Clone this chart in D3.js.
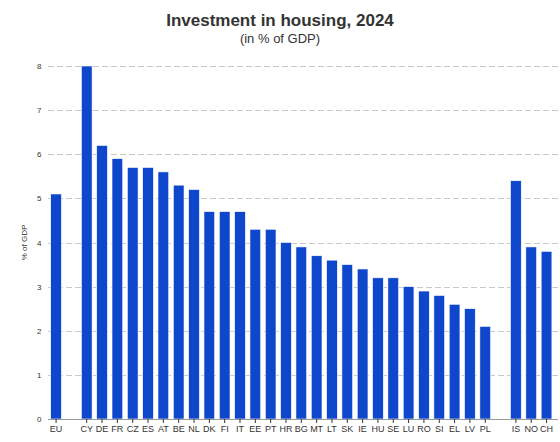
<!DOCTYPE html>
<html><head><meta charset="utf-8">
<script src="https://cdn.jsdelivr.net/npm/d3@7"></script>
<style>body{margin:0;background:#fff;} svg{display:block;font-family:"Liberation Sans",Arial,sans-serif;}</style>
</head><body>
<svg id="c" width="560" height="442"></svg>
<script>
const categories = ["EU","","CY","DE","FR","CZ","ES","AT","BE","NL","DK","FI","IT","EE","PT","HR","BG","MT","LT","SK","IE","HU","SE","LU","RO","SI","EL","LV","PL"," ","IS","NO","CH"];
const values = [5.1,null,8.0,6.2,5.9,5.7,5.7,5.6,5.3,5.2,4.7,4.7,4.7,4.3,4.3,4.0,3.9,3.7,3.6,3.5,3.4,3.2,3.2,3.0,2.9,2.8,2.6,2.5,2.1,null,5.4,3.9,3.8];
const yTicks = [0,1,2,3,4,5,6,7,8];
const title = "Investment in housing, 2024";
const subtitle = "(in % of GDP)";
const yLabel = "% of GDP";

const svg = d3.select("#c");
const m = {l:48.4, r:5.8, t:66, b:23};
const W = 560, H = 442;
const x = d3.scaleBand().domain(categories).range([m.l, W-m.r]).paddingInner(0.3).paddingOuter(0.15);
const y = d3.scaleLinear().domain([0,8]).range([H-m.b, m.t]);

svg.append("text").attr("x",280).attr("y",26).attr("text-anchor","middle")
  .attr("font-size",17).attr("font-weight","bold").attr("fill","#333").text(title);
svg.append("text").attr("x",280).attr("y",43).attr("text-anchor","middle")
  .attr("font-size",13).attr("fill","#333").text(subtitle);

// grid
svg.append("g").selectAll("line").data(yTicks.filter(d=>d>0)).join("line")
  .attr("x1",48).attr("x2",558).attr("y1",d=>Math.round(y(d))+0.5).attr("y2",d=>Math.round(y(d))+0.5)
  .attr("stroke","#c8c8c8").attr("stroke-dasharray","6,3");

// y axis
const ya = svg.append("g").attr("transform",`translate(${m.l},0)`)
  .call(d3.axisLeft(y).tickValues(yTicks).tickSize(0).tickPadding(7).tickFormat(d3.format("d")));
ya.select(".domain").remove();
ya.selectAll("text").attr("font-size",8).attr("fill","#333").attr("font-family","Liberation Sans, Arial, sans-serif");

svg.append("text").attr("transform",`translate(27,${(m.t+H-m.b)/2}) rotate(-90)`)
  .attr("text-anchor","middle").attr("font-size",8).attr("fill","#333").text(yLabel);

// bars
svg.append("g").selectAll("rect").data(categories.map((c,i)=>({c,v:values[i]})).filter(d=>d.v!=null)).join("rect")
  .attr("x",d=>x(d.c)).attr("width",x.bandwidth())
  .attr("y",d=>y(d.v)).attr("height",d=>y(0)-y(d.v))
  .attr("fill","#0e47cb").attr("stroke","#ffffff").attr("stroke-width",0.6);

// x axis
const xa = svg.append("g").attr("transform",`translate(0,${y(0)})`)
  .call(d3.axisBottom(x).tickSize(4).tickPadding(3).tickFormat(d=>d.trim()));
xa.select(".domain").attr("stroke","#999").attr("d",`M${48},0.5H${558}`);
xa.selectAll(".tick").filter(d=>d.trim()==="").remove();
xa.selectAll(".tick line").attr("stroke","#333");
xa.selectAll("text").attr("font-size",9).attr("fill","#333").attr("font-family","Liberation Sans, Arial, sans-serif");
</script>
</body></html>
